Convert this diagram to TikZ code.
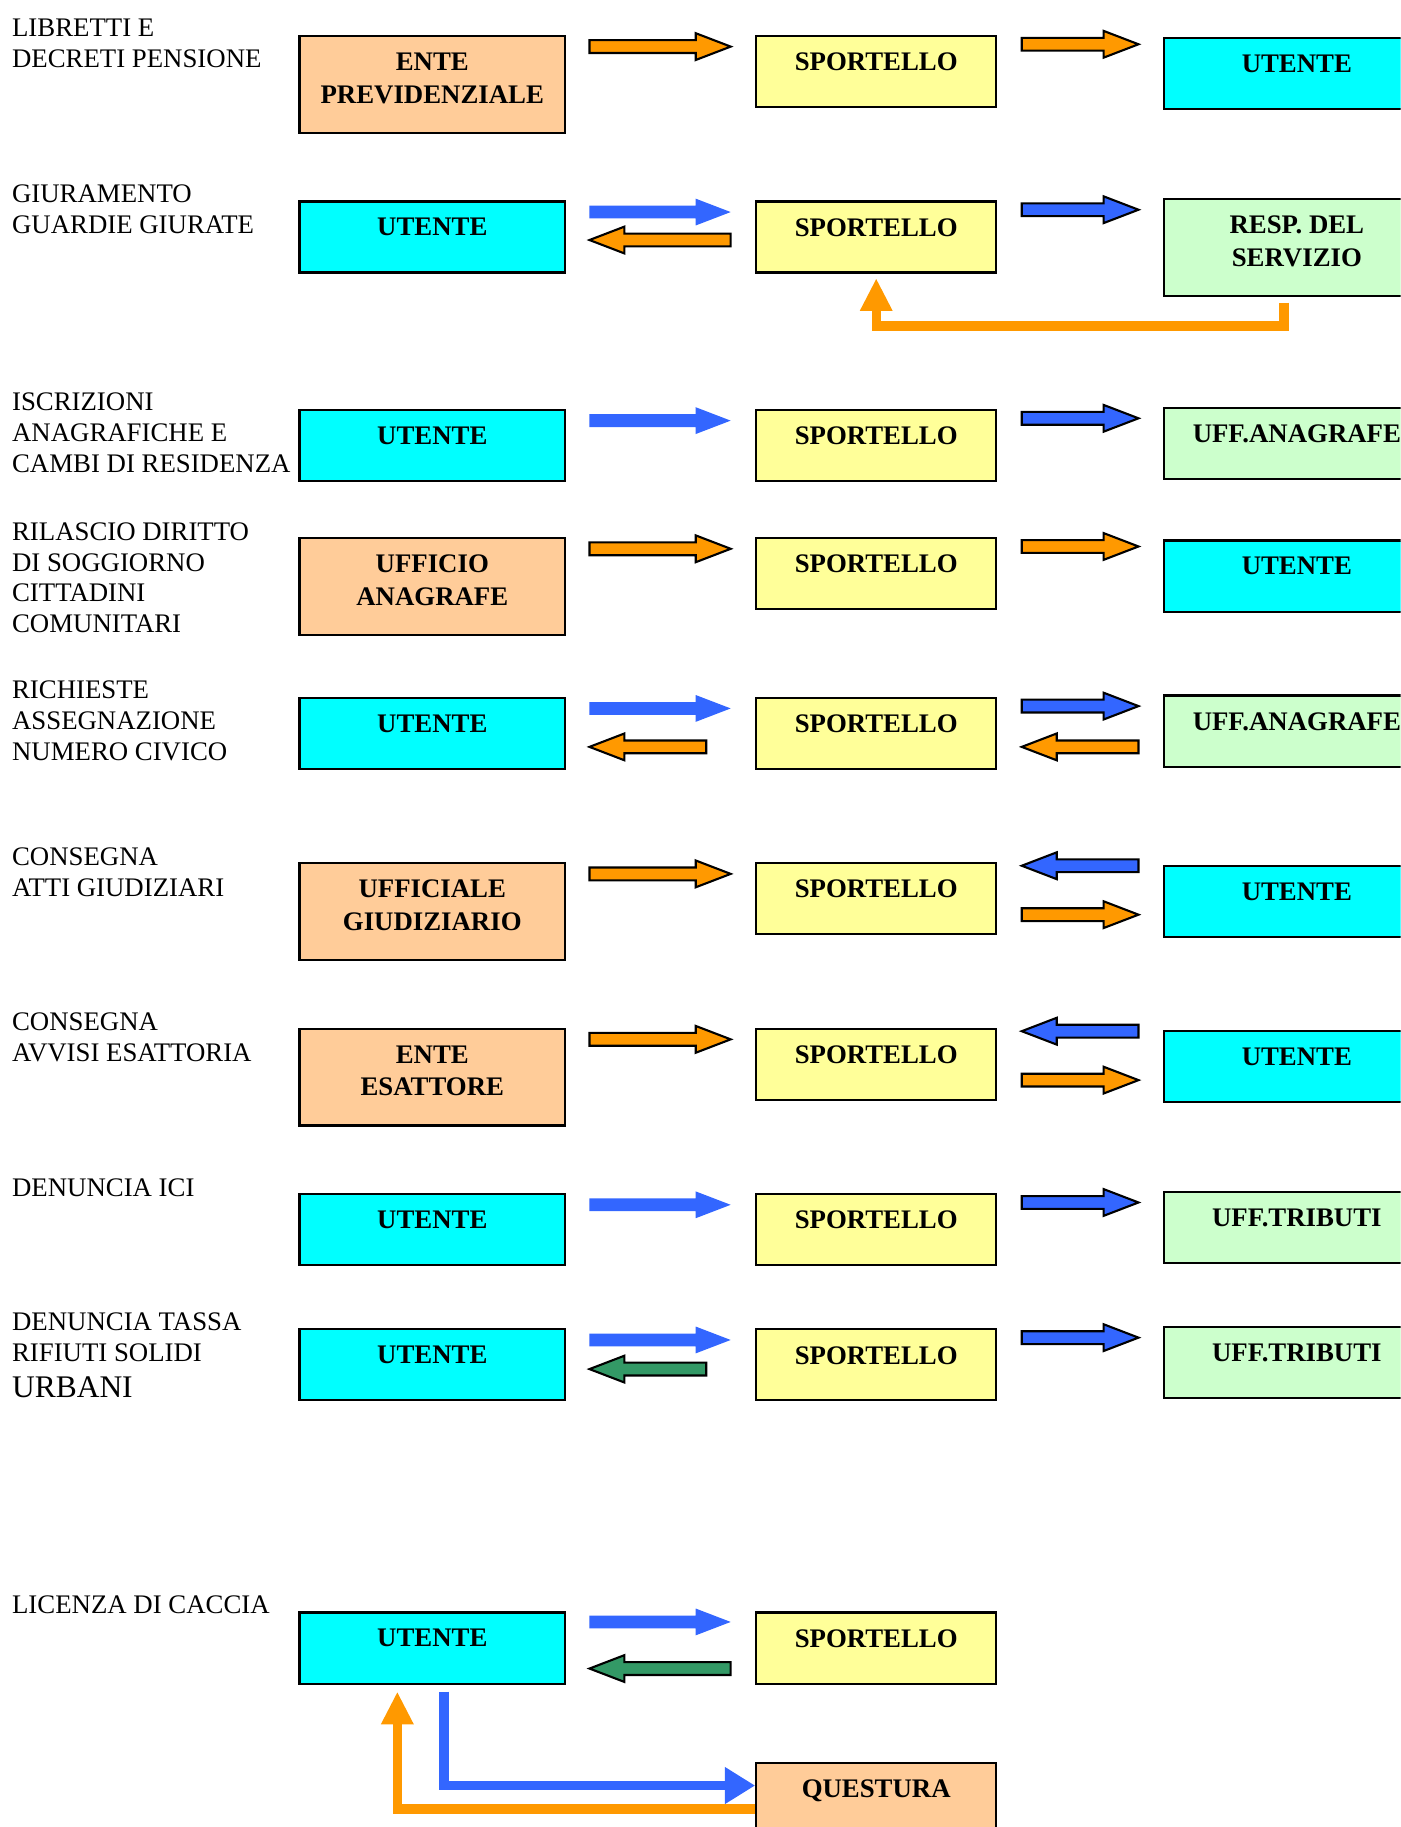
\documentclass[tikz,border=0pt]{standalone}
\usepackage{fontspec}
\setmainfont{Liberation Serif}
\usetikzlibrary{arrows.meta,calc}
\definecolor{peach}{HTML}{FFCC99}
\definecolor{yel}{HTML}{FFFF99}
\definecolor{cyn}{HTML}{00FFFF}
\definecolor{lgreen}{HTML}{CCFFCC}
\definecolor{orng}{HTML}{FF9900}
\definecolor{blu}{HTML}{3366FF}
\definecolor{grn}{HTML}{339966}
\begin{document}
\begin{tikzpicture}[x=0.5pt, y=-0.5pt, line join=miter,
  box/.style={draw, line width=0.9pt, anchor=north, inner sep=0pt, minimum width=114pt, minimum height=30.5pt},
  tall/.style={minimum height=41.5pt},
  narrow/.style={minimum width=103pt},
  txt/.style={anchor=north, yshift=-7.5pt, inner sep=0pt, align=center, font=\bfseries\fontsize{11.5}{14}\selectfont},
  lbl/.style={anchor=north west, inner sep=0pt, align=left, font=\fontsize{11.5}{13.25}\selectfont},
  blk/.style={line width=0.9pt, to path={let \p1=(\tikztostart), \p2=(\tikztotarget), \n1={15pt*sign(\x2-\x1)} in
      (\x1,\y1+2.75pt) -- (\x2-\n1,\y1+2.75pt) -- (\x2-\n1,\y1+5.75pt) -- (\x2,\y1)
      -- (\x2-\n1,\y1-5.75pt) -- (\x2-\n1,\y1-2.75pt) -- (\x1,\y1-2.75pt) -- cycle}},
  elb/.style={line width=4pt}]
  \useasboundingbox (0,0) rectangle (1202,1568);
  \clip (0,0) rectangle (1202,1568);

  \node[lbl] (t1) at (10,16) {LIBRETTI E\\DECRETI PENSIONE};
  \node[box, tall, fill=peach, label={[txt]north:ENTE\\PREVIDENZIALE}] (ep1) at (371,30) {};
  \node[box, narrow, fill=yel, label={[txt]north:SPORTELLO}] (sp1) at (752,30) {};
  \node[box, fill=cyn, label={[txt]north:UTENTE}] (ut1) at (1113,32) {};
  \draw[blk, fill=orng] ([shift={(20,10)}]ep1.north east) to ([shift={(-21,10)}]sp1.north west);
  \draw[blk, fill=orng] ([shift={(21,8)}]sp1.north east) to ([shift={(-21,6)}]ut1.north west);

  \node[lbl] (t2) at (10,158) {GIURAMENTO\\GUARDIE GIURATE};
  \node[box, fill=cyn, label={[txt]north:UTENTE}] (ut2) at (371,172) {};
  \node[box, narrow, fill=yel, label={[txt]north:SPORTELLO}] (sp2) at (752,172) {};
  \node[box, tall, fill=lgreen, label={[txt]north:RESP. DEL\\SERVIZIO}] (rs2) at (1113,170) {};
  \fill[blk, blu] ([shift={(20,10)}]ut2.north east) to ([shift={(-21,10)}]sp2.north west);
  \draw[blk, fill=orng] ([shift={(-21,34)}]sp2.north west) to ([shift={(20,34)}]ut2.north east);
  \draw[blk, fill=blu] ([shift={(21,8)}]sp2.north east) to ([shift={(-21,10)}]rs2.north west);
  \draw[elb, orng, -{Triangle[width=13pt,length=14pt]}] ([shift={(-11,5)}]rs2.south) -- ++(0,20) -| ([shift={(0,4)}]sp2.south);

  \node[lbl] (t3) at (10,337) {ISCRIZIONI\\ANAGRAFICHE E\\CAMBI DI RESIDENZA};
  \node[box, fill=cyn, label={[txt]north:UTENTE}] (ut3) at (371,351) {};
  \node[box, narrow, fill=yel, label={[txt]north:SPORTELLO}] (sp3) at (752,351) {};
  \node[box, fill=lgreen, label={[txt]north:UFF.ANAGRAFE}] (an3) at (1113,349) {};
  \fill[blk, blu] ([shift={(20,10)}]ut3.north east) to ([shift={(-21,10)}]sp3.north west);
  \draw[blk, fill=blu] ([shift={(21,8)}]sp3.north east) to ([shift={(-21,10)}]an3.north west);

  \node[lbl] (t4) at (10,448) {RILASCIO DIRITTO\\DI SOGGIORNO\\CITTADINI\\COMUNITARI};
  \node[box, tall, fill=peach, label={[txt]north:UFFICIO\\ANAGRAFE}] (ua4) at (371,461) {};
  \node[box, narrow, fill=yel, label={[txt]north:SPORTELLO}] (sp4) at (752,461) {};
  \node[box, fill=cyn, label={[txt]north:UTENTE}] (ut4) at (1113,463) {};
  \draw[blk, fill=orng] ([shift={(20,10)}]ua4.north east) to ([shift={(-21,10)}]sp4.north west);
  \draw[blk, fill=orng] ([shift={(21,8)}]sp4.north east) to ([shift={(-21,6)}]ut4.north west);

  \node[lbl] (t5) at (10,584) {RICHIESTE\\ASSEGNAZIONE\\NUMERO CIVICO};
  \node[box, fill=cyn, label={[txt]north:UTENTE}] (ut5) at (371,598) {};
  \node[box, narrow, fill=yel, label={[txt]north:SPORTELLO}] (sp5) at (752,598) {};
  \node[box, fill=lgreen, label={[txt]north:UFF.ANAGRAFE}] (an5) at (1113,596) {};
  \fill[blk, blu] ([shift={(20,10)}]ut5.north east) to ([shift={(-21,10)}]sp5.north west);
  \draw[blk, fill=orng] ([shift={(-42,43)}]sp5.north west) to ([shift={(20,43)}]ut5.north east);
  \draw[blk, fill=blu] ([shift={(21,8)}]sp5.north east) to ([shift={(-21,10)}]an5.north west);
  \draw[blk, fill=orng] ([shift={(-21,45)}]an5.north west) to ([shift={(21,43)}]sp5.north east);

  \node[lbl] (t6) at (10,727) {CONSEGNA\\ATTI GIUDIZIARI};
  \node[box, tall, fill=peach, label={[txt]north:UFFICIALE\\GIUDIZIARIO}] (ug6) at (371,740) {};
  \node[box, narrow, fill=yel, label={[txt]north:SPORTELLO}] (sp6) at (752,740) {};
  \node[box, fill=cyn, label={[txt]north:UTENTE}] (ut6) at (1113,742) {};
  \draw[blk, fill=orng] ([shift={(20,10)}]ug6.north east) to ([shift={(-21,10)}]sp6.north west);
  \draw[blk, fill=blu] ([shift={(-21,1)}]ut6.north west) to ([shift={(21,3)}]sp6.north east);
  \draw[blk, fill=orng] ([shift={(21,45)}]sp6.north east) to ([shift={(-21,43)}]ut6.north west);

  \node[lbl] (t7) at (10,869) {CONSEGNA\\AVVISI ESATTORIA};
  \node[box, tall, fill=peach, label={[txt]north:ENTE\\ESATTORE}] (ee7) at (371,882) {};
  \node[box, narrow, fill=yel, label={[txt]north:SPORTELLO}] (sp7) at (752,882) {};
  \node[box, fill=cyn, label={[txt]north:UTENTE}] (ut7) at (1113,884) {};
  \draw[blk, fill=orng] ([shift={(20,10)}]ee7.north east) to ([shift={(-21,10)}]sp7.north west);
  \draw[blk, fill=blu] ([shift={(-21,1)}]ut7.north west) to ([shift={(21,3)}]sp7.north east);
  \draw[blk, fill=orng] ([shift={(21,45)}]sp7.north east) to ([shift={(-21,43)}]ut7.north west);

  \node[lbl] (t8) at (10,1011) {DENUNCIA ICI};
  \node[box, fill=cyn, label={[txt]north:UTENTE}] (ut8) at (371,1024) {};
  \node[box, narrow, fill=yel, label={[txt]north:SPORTELLO}] (sp8) at (752,1024) {};
  \node[box, fill=lgreen, label={[txt]north:UFF.TRIBUTI}] (tr8) at (1113,1022) {};
  \fill[blk, blu] ([shift={(20,10)}]ut8.north east) to ([shift={(-21,10)}]sp8.north west);
  \draw[blk, fill=blu] ([shift={(21,8)}]sp8.north east) to ([shift={(-21,10)}]tr8.north west);

  \node[lbl] (t9) at (10,1126) {DENUNCIA TASSA\\RIFIUTI SOLIDI\\[2.5pt]{\fontsize{13.5}{16}\selectfont URBANI}};
  \node[box, fill=cyn, label={[txt]north:UTENTE}] (ut9) at (371,1140) {};
  \node[box, narrow, fill=yel, label={[txt]north:SPORTELLO}] (sp9) at (752,1140) {};
  \node[box, fill=lgreen, label={[txt]north:UFF.TRIBUTI}] (tr9) at (1113,1138) {};
  \fill[blk, blu] ([shift={(20,10)}]ut9.north east) to ([shift={(-21,10)}]sp9.north west);
  \draw[blk, fill=grn] ([shift={(-42,35)}]sp9.north west) to ([shift={(20,35)}]ut9.north east);
  \draw[blk, fill=blu] ([shift={(21,8)}]sp9.north east) to ([shift={(-21,10)}]tr9.north west);

  \node[lbl] (t10) at (10,1369) {LICENZA DI CACCIA};
  \node[box, fill=cyn, label={[txt]north:UTENTE}] (ut10) at (371,1383) {};
  \node[box, narrow, fill=yel, label={[txt]north:SPORTELLO}] (sp10) at (752,1383) {};
  \node[box, narrow, fill=peach, label={[txt]north:QUESTURA}] (qu10) at (752,1512) {};
  \fill[blk, blu] ([shift={(20,9)}]ut10.north east) to ([shift={(-21,9)}]sp10.north west);
  \draw[blk, fill=grn] ([shift={(-21,49)}]sp10.north west) to ([shift={(20,49)}]ut10.north east);
  \draw[elb, blu, -{Triangle[width=15pt,length=13pt]}] ([shift={(10,6)}]ut10.south) |- ([shift={(0,-11)}]qu10.west);
  \draw[elb, orng, -{Triangle[width=13pt,length=14pt]}] ([shift={(0,9)}]qu10.west) -| ([shift={(-30,6)}]ut10.south);
\end{tikzpicture}
\end{document}
